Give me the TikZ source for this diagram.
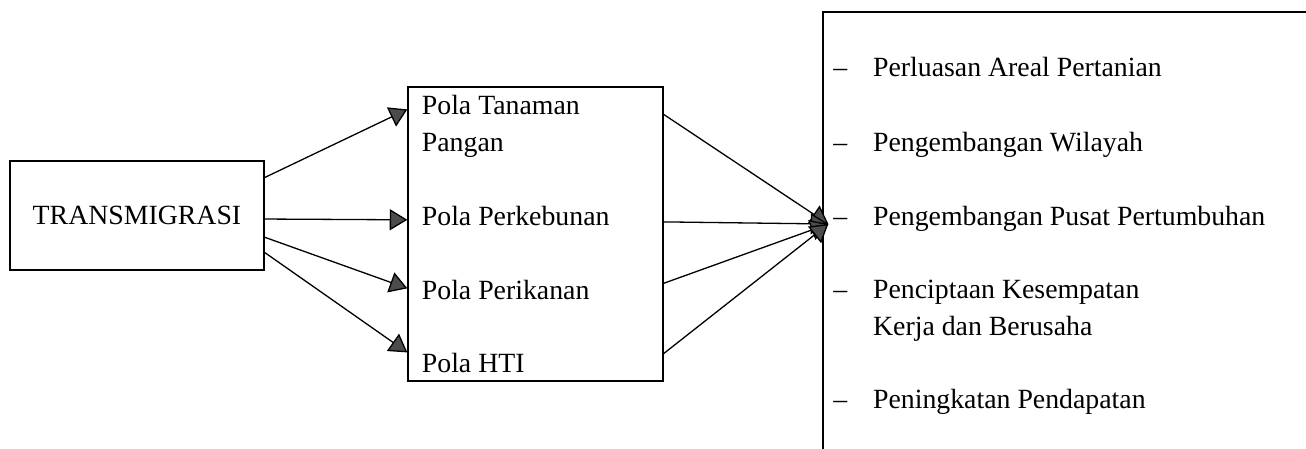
\documentclass[tikz,border=0pt]{standalone}
\usepackage{fontspec}
\setmainfont{Liberation Serif}
\usetikzlibrary{arrows.meta,calc}

\tikzset{
    kotak/.style={draw, line width=0.65pt, inner sep=0pt},
    teks/.style={anchor=base west, inner sep=0pt, font=\fontsize{13.9}{18}\selectfont},
    panah/.style={line width=0.65pt, -{Triangle[length=8.8pt,width=10.5pt,fill=black!70]}},
}
\newcommand{\butir}{\makebox[19.85pt][l]{--}}

\begin{document}
\begin{tikzpicture}[x=0.5pt,y=-0.5pt]
        \clip (0,0) rectangle (1306,449);
        \node[kotak, minimum width=127pt, minimum height=54.5pt, font=\fontsize{13.9}{18}\selectfont] (trans) at (137,215.5) {TRANSMIGRASI};
        \node[kotak, minimum width=127.5pt, minimum height=147pt] (pola) at (535.5,234) {};
        \node[kotak, minimum width=253.5pt, minimum height=229pt] (hasil) at (1076.5,241) {};

        \node[teks] (tanaman) at (421.5,115) {Pola Tanaman};
        \node[teks] (pangan) at ($(tanaman.base west)+(0,36.7)$) {Pangan};
        \node[teks] (kebun) at (421.5,225) {Pola Perkebunan};
        \node[teks] (ikan) at (421.5,299) {Pola Perikanan};
        \node[teks] (hti) at (421.5,372.7) {Pola HTI};

        \node[teks] (areal) at (833,77) {\butir Perluasan Areal Pertanian};
        \node[teks] (wilayah) at (833,152) {\butir Pengembangan Wilayah};
        \node[teks] (pusat) at (833,225) {\butir Pengembangan Pusat Pertumbuhan};
        \node[teks] (kerja) at (833,298) {\butir Penciptaan Kesempatan};
        \node[teks] (usaha) at ($(kerja.base west)+(39.7,37)$) {Kerja dan Berusaha};
        \node[teks] (pendapatan) at (833,408) {\butir Peningkatan Pendapatan};

        \coordinate (tuju) at ($(hasil.north west)!0.463!(hasil.south west)+(6,0)$);

        \draw[panah] ($(trans.north east)!0.156!(trans.south east)$) -- ($(pola.north west)!0.078!(pola.south west)$);
        \draw[panah] ($(trans.north east)!0.532!(trans.south east)$) -- ($(pola.north west)!0.452!(pola.south west)$);
        \draw[panah] ($(trans.north east)!0.697!(trans.south east)$) -- ($(pola.north west)!0.684!(pola.south west)$);
        \draw[panah] ($(trans.north east)!0.835!(trans.south east)$) -- ($(pola.north west)!0.901!(pola.south west)$);

        \draw[panah] ($(pola.north east)!0.095!(pola.south east)$) -- (tuju);
        \draw[panah] ($(pola.north east)!0.459!(pola.south east)$) -- (tuju);
        \draw[panah] ($(pola.north east)!0.667!(pola.south east)$) -- (tuju);
        \draw[panah] ($(pola.north east)!0.905!(pola.south east)$) -- (tuju);
    \end{tikzpicture}
\end{document}
